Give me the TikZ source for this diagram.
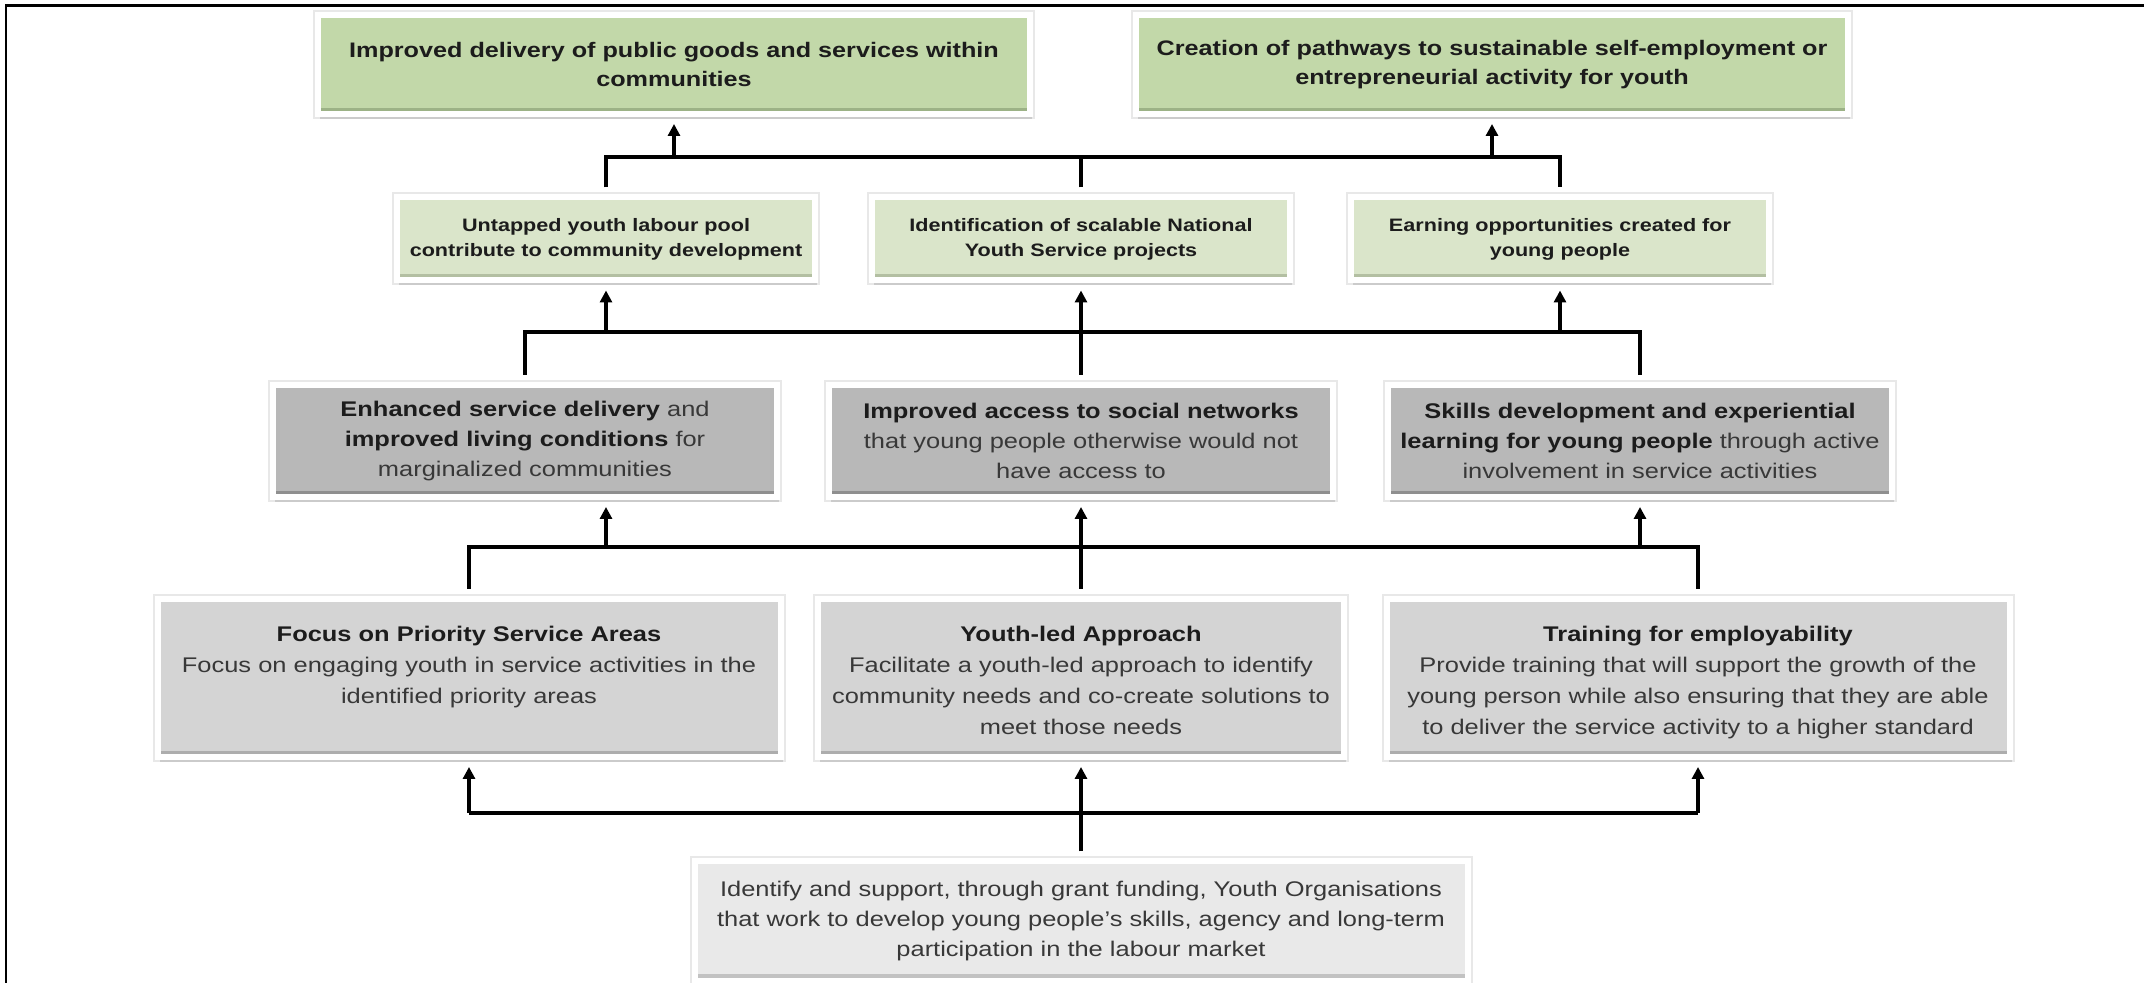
\documentclass[tikz,border=0pt]{standalone}
\usepackage{fontspec}
\setmainfont[FakeStretch=1.2]{Liberation Sans}
\usepackage{tikz}
\usetikzlibrary{arrows.meta,positioning,shadows}
\definecolor{goalfill}{HTML}{C2D8A9}
\definecolor{goaledge}{HTML}{9CB286}
\definecolor{outfill}{HTML}{DAE5CA}
\definecolor{outedge}{HTML}{B3BFA2}
\definecolor{resfill}{HTML}{B8B8B8}
\definecolor{resedge}{HTML}{8F8F8F}
\definecolor{stratfill}{HTML}{D4D4D4}
\definecolor{stratedge}{HTML}{ADADAD}
\definecolor{fundfill}{HTML}{E9E9E9}
\definecolor{fundedge}{HTML}{C2C2C2}
\definecolor{boxink}{HTML}{1C1C1C}
\definecolor{softink}{HTML}{383838}
\newcommand{\keyterm}[1]{\textbf{\color{boxink}#1}}
\newcommand{\stratpar}[3]{\parbox[c][52pt][t]{#1}{\centering\keyterm{#2}\\#3}}

\begin{document}
\begin{tikzpicture}[x=0.5pt, y=-0.5pt,
    box/.style={draw=white, line width=3pt, inner sep=0pt, outer sep=5pt,
        align=center, text=boxink,
        preaction={draw=black!9, line width=5pt},
        drop shadow={shadow xshift=1pt, shadow yshift=-2.5pt, fill=black, opacity=0.12}},
    bevel/.style={path picture={\fill[#1] (path picture bounding box.south west)
        rectangle ([yshift=3.2pt]path picture bounding box.south east);}},
    goal/.style={box, fill=goalfill, bevel=goaledge, minimum width=356pt,
        minimum height=49.5pt, font=\fontsize{10.5}{14.5}\selectfont\bfseries},
    outcome/.style={box, fill=outfill, bevel=outedge, minimum width=209pt,
        minimum height=41.5pt, font=\fontsize{9}{12.5}\selectfont\bfseries},
    result/.style={box, fill=resfill, bevel=resedge, text=softink, minimum width=252pt,
        minimum height=56pt, font=\fontsize{10.6}{15}\selectfont},
    strategy/.style={box, fill=stratfill, bevel=stratedge, text=softink,
        minimum height=79pt, font=\fontsize{10.6}{15.5}\selectfont},
    fundbox/.style={box, fill=fundfill, bevel=fundedge, text=softink, minimum width=386.5pt,
        minimum height=59.5pt, font=\fontsize{10.6}{15}\selectfont},
    link/.style={line width=1.6pt, black},
    arr/.style={link, -{Triangle[width=6pt,length=6pt]}}]
  \useasboundingbox (0,0) rectangle (2144,983);
  \draw[line width=1.3pt] (6,983) -- (6,5.5) -- (2144,5.5);

  % goals
  \node[goal] (g1) at (674,64.5) {Improved delivery of public goods and services within\\communities};
  \node[goal] (g2) at (1492,64.5) {Creation of pathways to sustainable self-employment or\\entrepreneurial activity for youth};

  % outcomes
  \node[outcome] (o1) at (606,239) {Untapped youth labour pool\\contribute to community development};
  \node[outcome] (o2) at (1081,239) {Identification of scalable National\\Youth Service projects};
  \node[outcome] (o3) at (1560,239) {Earning opportunities created for\\young people};

  % results
  \node[result] (r1) at (525,441) {\keyterm{Enhanced service delivery} and\\\keyterm{improved living conditions} for\\marginalized communities};
  \node[result] (r2) at (1081,441) {\keyterm{Improved access to social networks}\\that young people otherwise would not\\have access to};
  \node[result] (r3) at (1640,441) {\keyterm{Skills development and experiential}\\\keyterm{learning for young people} through active\\involvement in service activities};

  % strategies
  \node[strategy, minimum width=311.5pt] (s1) at (469,678) {\stratpar{306pt}{Focus on Priority Service Areas}{Focus on engaging youth in service activities in the\\identified priority areas}};
  \node[strategy, minimum width=263pt] (s2) at (1081,678) {\stratpar{259pt}{Youth-led Approach}{Facilitate a youth-led approach to identify\\community needs and co-create solutions to\\meet those needs}};
  \node[strategy, minimum width=311.5pt] (s3) at (1698,678) {\stratpar{306pt}{Training for employability}{Provide training that will support the growth of the\\young person while also ensuring that they are able\\to deliver the service activity to a higher standard}};

  % funding
  \node[fundbox] (f) at (1081,921) {Identify and support, through grant funding, Youth Organisations\\that work to develop young people’s skills, agency and long-term\\participation in the labour market};

  % bus levels
  \coordinate (ja) at (0,157);
  \coordinate (jb) at (0,332);
  \coordinate (jc) at (0,547);
  \coordinate (jd) at (0,813);

  \draw[link] (o1.north) -- (o1.north |- ja) -- (o3.north |- ja) -- (o3.north);
  \draw[link] (o2.north) -- (o2.north |- ja);
  \draw[arr] (g1.south |- ja) -- (g1.south);
  \draw[arr] (g2.south |- ja) -- (g2.south);

  \draw[link] (r1.north) -- (r1.north |- jb) -- (r3.north |- jb) -- (r3.north);
  \draw[arr] (r2.north) -- (o2.south);
  \draw[arr] (o1.south |- jb) -- (o1.south);
  \draw[arr] (o3.south |- jb) -- (o3.south);

  \draw[link] (s1.north) -- (s1.north |- jc) -- (s3.north |- jc) -- (s3.north);
  \draw[arr] (s2.north) -- (r2.south);
  \draw[arr] (o1 |- jc) -- (r1.south -| o1);
  \draw[arr] (r3.south |- jc) -- (r3.south);

  \draw[link] (s1.south |- jd) -- (s3.south |- jd);
  \draw[arr] (f.north) -- (s2.south);
  \draw[arr] (s1.south |- jd) -- (s1.south);
  \draw[arr] (s3.south |- jd) -- (s3.south);
\end{tikzpicture}
\end{document}
